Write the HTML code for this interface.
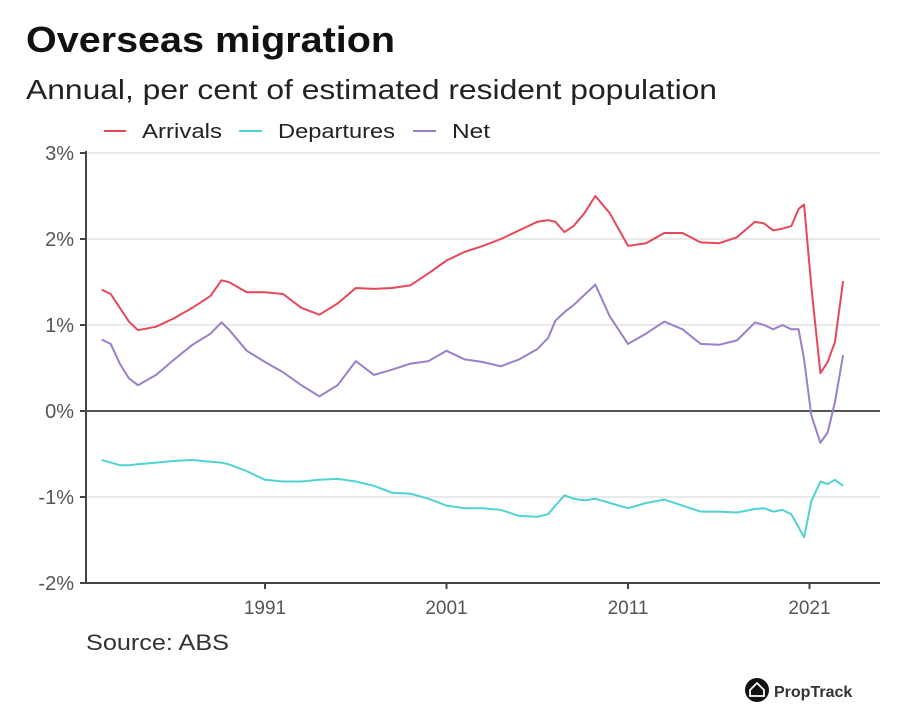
<!DOCTYPE html>
<html><head><meta charset="utf-8"><style>
body{margin:0;background:#fff;width:907px;height:720px;overflow:hidden;font-family:"Liberation Sans",sans-serif;}
svg{position:absolute;left:0;top:0}
</style></head><body>
<svg id="chart" width="907" height="720">
<text x="26" y="52" font-size="36" font-weight="bold" fill="#111" textLength="369" lengthAdjust="spacingAndGlyphs">Overseas migration</text>
<text x="26" y="99" font-size="28" fill="#222" textLength="691" lengthAdjust="spacingAndGlyphs">Annual, per cent of estimated resident population</text>
<g>
<g><line x1="104" y1="131" x2="126" y2="131" stroke="#e8475a" stroke-width="2"/><text x="142" y="138" font-size="20" fill="#222" textLength="80" lengthAdjust="spacingAndGlyphs">Arrivals</text></g>
<g><line x1="239" y1="131" x2="262" y2="131" stroke="#4fd3d3" stroke-width="2"/><text x="278" y="138" font-size="20" fill="#222" textLength="117" lengthAdjust="spacingAndGlyphs">Departures</text></g>
<g><line x1="413" y1="131" x2="436" y2="131" stroke="#9b7fc8" stroke-width="2"/><text x="452" y="138" font-size="20" fill="#222" textLength="38" lengthAdjust="spacingAndGlyphs">Net</text></g>
</g>
<g id="grid"></g>
<g id="axes"></g>
<g id="series"></g>
<text x="86" y="650" font-size="22" fill="#333" textLength="143" lengthAdjust="spacingAndGlyphs">Source: ABS</text>
<g>
<circle cx="757" cy="690" r="12" fill="#111"/>
<path d="M750 690 L757 683 L764 690 L764 696 L750 696 Z" fill="none" stroke="#fff" stroke-width="1.8"/>
<text x="774" y="697" font-size="16" font-weight="bold" fill="#333">PropTrack</text>
</g>
</svg>
<script>
const years=[1982,1982.5,1983,1983.5,1984,1985,1986,1987,1988,1988.6,1989,1990,1991,1992,1993,1994,1995,1996,1997,1998,1999,2000,2001,2002,2003,2004,2005,2006,2006.6,2007,2007.5,2008,2008.6,2009.2,2010,2011,2012,2013,2014,2015,2016,2017,2018,2018.5,2019,2019.5,2020,2020.4,2020.7,2021.1,2021.6,2022,2022.4,2022.85];
const arrivals=[1.41,1.36,1.2,1.04,0.94,0.98,1.08,1.2,1.34,1.52,1.5,1.38,1.38,1.36,1.2,1.12,1.25,1.43,1.42,1.43,1.46,1.6,1.75,1.85,1.92,2.0,2.1,2.2,2.22,2.2,2.08,2.15,2.3,2.5,2.3,1.92,1.95,2.07,2.07,1.96,1.95,2.02,2.2,2.18,2.1,2.12,2.15,2.35,2.4,1.45,0.44,0.57,0.8,1.51];
const departures=[-0.57,-0.6,-0.63,-0.63,-0.62,-0.6,-0.58,-0.57,-0.59,-0.6,-0.62,-0.7,-0.8,-0.82,-0.82,-0.8,-0.79,-0.82,-0.87,-0.95,-0.96,-1.02,-1.1,-1.13,-1.13,-1.15,-1.22,-1.23,-1.2,-1.1,-0.98,-1.02,-1.04,-1.02,-1.07,-1.13,-1.07,-1.03,-1.1,-1.17,-1.17,-1.18,-1.14,-1.13,-1.17,-1.15,-1.2,-1.35,-1.47,-1.05,-0.82,-0.85,-0.8,-0.87];
const net=[0.83,0.78,0.55,0.38,0.3,0.42,0.6,0.77,0.9,1.03,0.95,0.7,0.57,0.45,0.3,0.17,0.3,0.58,0.42,0.48,0.55,0.58,0.7,0.6,0.57,0.52,0.6,0.72,0.85,1.05,1.15,1.23,1.35,1.47,1.1,0.78,0.9,1.04,0.95,0.78,0.77,0.82,1.03,1.0,0.95,1.0,0.95,0.95,0.6,-0.05,-0.37,-0.25,0.1,0.65];
const yTicks=[3,2,1,0,-1,-2];
const yTickLabels=["3%","2%","1%","0%","-1%","-2%"];
const xTicks=[1991,2001,2011,2021];
const xTickLabels=["1991","2001","2011","2021"];
const X=y=>265+(y-1991)*18.15;
const Y=v=>411-v*86;
const NS="http://www.w3.org/2000/svg";
function mk(tag,attrs,parent){const e=document.createElementNS(NS,tag);for(const k in attrs)e.setAttribute(k,attrs[k]);document.getElementById(parent).appendChild(e);return e;}
yTicks.forEach((t,i)=>{
 if(t!==0&&t!==-2){const g=mk('line',{x1:86,x2:880,y1:Y(t),y2:Y(t),stroke:'#e4e4e4','stroke-width':1.5},'grid');
 
 }
 const tk=mk('line',{x1:80,x2:86,y1:Y(t),y2:Y(t),stroke:'#444','stroke-width':2},'axes');
 
 
 const tx=mk('text',{x:74,y:Y(t)+7,'text-anchor':'end','font-size':20,fill:'#555'},'axes');
 tx.textContent=yTickLabels[i];
 
 
});
xTicks.forEach((t,i)=>{
 const tk=mk('line',{x1:X(t),x2:X(t),y1:583,y2:589,stroke:'#444','stroke-width':2},'axes');
 
 
 const tx=mk('text',{x:X(t),y:614,'text-anchor':'middle','font-size':19,fill:'#555'},'axes');
 tx.textContent=xTickLabels[i];
 
 
});
const ya=mk('line',{x1:86,x2:86,y1:151,y2:584,stroke:'#444','stroke-width':2},'axes');


const xa=mk('line',{x1:85,x2:880,y1:583,y2:583,stroke:'#444','stroke-width':2},'axes');


const zl=mk('line',{x1:86,x2:880,y1:Y(0),y2:Y(0),stroke:'#555','stroke-width':2},'axes');


function line(vals,color,name){
 const d=vals.map((v,i)=>(i?'L':'M')+X(years[i]).toFixed(1)+' '+Y(v).toFixed(1)).join(' ');
 const p=mk('path',{d:d,fill:'none',stroke:color,'stroke-width':2,'stroke-linejoin':'round'},'series');
 
 
}
line(arrivals,'#e8475a','arrivals-line');
line(departures,'#4fd3d3','departures-line');
line(net,'#9b7fc8','net-line');
</script>
</body></html>
